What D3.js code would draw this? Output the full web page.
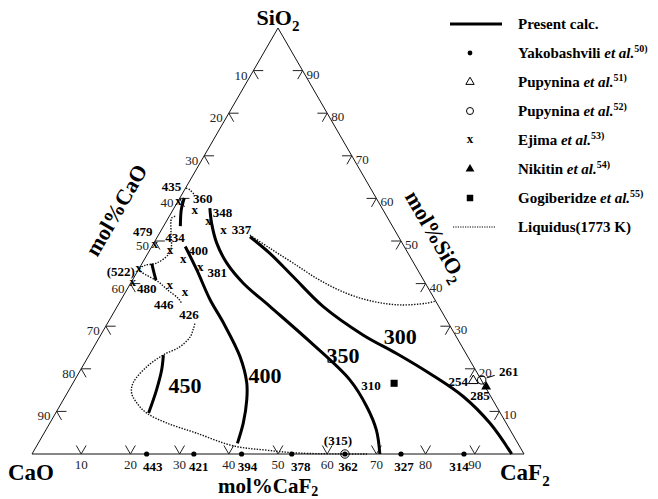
<!DOCTYPE html>
<html>
<head>
<meta charset="utf-8">
<script src="https://cdn.jsdelivr.net/npm/d3@7"></script>
<style>
  body { margin: 0; background: #fff; }
  svg { font-family: "Liberation Serif", "Times New Roman", serif; }
</style>
</head>
<body>
<svg id="chart" width="658" height="499"></svg>
<script>
// every composition is [mol% CaF2, mol% SiO2]; CaO is what is left
const tickValues = [10, 20, 30, 40, 50, 60, 70, 80, 90];

// present calc. isolines
const calc450 = [[15.1, 23.2], [16.5, 19.7], [17.8, 15.0], [18.9, 9.6]];
const calc400 = [[6.8, 48.7], [11.9, 43.2], [18.1, 36.2], [23.5, 30.8], [30.9, 22.8], [35.3, 16.7], [37.3, 12.7], [39.3, 7.3], [40.5, 2.5]];
const calc350 = [[7.3, 57.7], [9.4, 54.2], [12.8, 49.5], [17.2, 44.8], [22.9, 40.1], [31.1, 34.6], [43.4, 26.3], [55.9, 17.4], [62.5, 11.1], [67.2, 5.6], [70.7, 0]];
const calc300 = [[18.8, 51.0], [24.8, 47.1], [32.3, 41.6], [41.9, 34.6], [53.4, 27.9], [62.3, 23.6], [71.4, 18.9], [80.9, 13.5], [89.5, 7.2], [97.5, 0]];
const calcTop = [[0.9, 60.1], [1.3, 58.5], [1.8, 57.0], [3.4, 53.5]];
const calcMid = [[2.0, 44.7], [3.2, 43.0], [4.8, 40.8]];
const calcNames = ['450', '400', '350', '300'];
const calcNamePos = [[23.0, 16.2], [38.1, 18.5], [51.6, 23.2], [61.0, 27.7]];

// liquidus 1773 K
const liqRight = [[18.6, 51.4], [24.2, 48.3], [30.7, 44.8], [38.1, 40.8], [45.1, 37.7], [51.5, 35.8], [57.3, 35.0], [62.5, 35.4], [64.1, 35.9]];
const liqTop = [[0.1, 62.4], [1.1, 62.0], [2.4, 61.0]];
const liqLeft1 = [[1.2, 55.8], [0.7, 55.4], [2.2, 52.1], [4.1, 48.4], [4.3, 46.8], [2.9, 44.8], [0.8, 44.3], [0.0, 43.4]];
const liqLeft2 = [[0.0, 43.4], [0.9, 42.7], [5.5, 40.4], [8.5, 38.4], [11.5, 36.5], [12.8, 35.3]];
const liqLeft3 = [[17.8, 30.6], [18.1, 29.4], [18.4, 27.5], [17.5, 25.2], [15.0, 23.2], [13.1, 20.5], [12.2, 16.7], [13.1, 14.3], [15.3, 12.0], [18.5, 9.6], [23.7, 7.3], [31.0, 4.9], [40.0, 1.9], [47.2, 0.9], [54.4, 0.2], [68.1, 0]];

// measured points
const yakoCaF2 = [23.3, 32.9, 42.6, 52.8, 63.6, 75.0, 87.8];
const yakoVals = ['443', '421', '394', '378', '362', '327', '314'];
const pupy51Pts = [[81.1, 17.2]];
const pupy51Vals = ['254'];
const pupy52Pts = [[82.7, 17.4], [63.6, 0]];
const pupy52Vals = ['261', '(315)'];
const ejimaPts = [[0.2, 59.2], [4.6, 57.0], [8.6, 54.5], [12.7, 52.4], [0.4, 49.1], [4.2, 47.7], [8.0, 45.5], [12.4, 43.6], [0.0, 43.4], [0.5, 40.0], [8.3, 39.4], [12.2, 37.8]];
const ejimaVals = ['435', '360', '348', '337', '479', '434', '400', '381', '(522)', '480', '446', '426'];
const nikitinPts = [[84.4, 15.8]];
const nikitinVals = ['285'];
const gogiPts = [[65.3, 16.6]];
const gogiVals = ['310'];

// label shifts in px from the marker
const shift = {
  '443': [6, 12], '421': [5, 12], '394': [6, 12], '378': [9, 12], '362': [3, 12], '327': [3, 12], '314': [-5, 12],
  '254': [-15, 1], '261': [27, -8], '(315)': [-7, -14], '285': [-6, 9], '310': [-23, 2],
  '435': [-7, -15], '360': [8, -13], '348': [14, -9], '337': [18, -1], '479': [-12, -13], '434': [5, -13],
  '400': [15, -10], '381': [17, 4], '(522)': [-18, 2], '480': [14, 5], '446': [-6, 18], '426': [4, 21]
};

const svg = d3.select('#chart');
const xs = d3.scaleLinear().domain([0, 100]).range([32, 524]);
const ys = d3.scaleLinear().domain([0, 100]).range([454, 28]);
const px = d => xs(d[0] + d[1] / 2);
const py = d => ys(d[1]);

// triangle
svg.append('path')
  .attr('d', d3.line().x(px).y(py)([[0, 0], [100, 0], [0, 100], [0, 0]]))
  .attr('fill', 'none').attr('stroke', '#111').attr('stroke-width', 1);

// ticks: two small arms along the grid directions
const arm = 2;
const tickG = svg.append('g').attr('stroke', '#222').attr('stroke-width', 1).attr('fill', 'none');
tickValues.forEach(v => {
  const left = [0, 100 - v];      // CaO = v
  const right = [100 - v, v];     // SiO2 = v
  const bottom = [v, 0];          // CaF2 = v
  [
    [left, [left[0] + arm, left[1]]], [left, [left[0] + arm, left[1] - arm]],
    [right, [right[0] - arm, right[1]]], [right, [right[0], right[1] - arm]],
    [bottom, [bottom[0] - arm, arm]], [bottom, [bottom[0], arm]]
  ].forEach(s => tickG.append('line')
    .attr('x1', px(s[0])).attr('y1', py(s[0]))
    .attr('x2', px(s[1])).attr('y2', py(s[1])));

  svg.append('text').attr('x', px(left) - 6).attr('y', py(left) + 9)
    .attr('text-anchor', 'end').attr('font-size', 13).attr('fill', '#222').text(v);
  svg.append('text').attr('x', px(right) + 4).attr('y', py(right) + 8)
    .attr('font-size', 13).attr('fill', '#222').text(v);
  svg.append('text').attr('x', px(bottom)).attr('y', py(bottom) + 15)
    .attr('text-anchor', 'middle').attr('font-size', 13).attr('fill', '#222').text(v);
});

// curves
const curve = d3.line().x(px).y(py).curve(d3.curveCatmullRom);
[liqRight, liqTop, liqLeft1, liqLeft2, liqLeft3].forEach(l => {
  svg.append('path').attr('d', curve(l)).attr('fill', 'none')
    .attr('stroke', '#111').attr('stroke-width', 1.4).attr('stroke-dasharray', '1.4,1.4');
});
[calc450, calc400, calc350, calc300, calcTop, calcMid].forEach(l => {
  svg.append('path').attr('d', curve(l)).attr('fill', 'none')
    .attr('stroke', '#000').attr('stroke-width', 3);
});
calcNames.forEach((t, i) => {
  svg.append('text').attr('x', px(calcNamePos[i])).attr('y', py(calcNamePos[i]))
    .attr('dy', '0.35em').attr('text-anchor', 'middle')
    .attr('font-size', 22).attr('font-weight', 'bold').text(t);
});

// markers
function pointLabel(d, t) {
  const s = shift[t];
  svg.append('text').attr('x', px(d) + s[0]).attr('y', py(d) + s[1])
    .attr('dy', '0.35em').attr('text-anchor', 'middle')
    .attr('font-size', 13).attr('font-weight', 'bold').text(t);
}
const tri = d3.symbol().type(d3.symbolTriangle).size(42);
const sq = d3.symbol().type(d3.symbolSquare).size(50);

yakoCaF2.forEach((f, i) => {
  const d = [f, 0];
  svg.append('circle').attr('cx', px(d)).attr('cy', py(d)).attr('r', 2.6).attr('fill', '#000');
  pointLabel(d, yakoVals[i]);
});
pupy51Pts.forEach((d, i) => {
  svg.append('path').attr('d', tri()).attr('transform', `translate(${px(d)},${py(d)})`)
    .attr('fill', '#fff').attr('stroke', '#000').attr('stroke-width', 1);
  pointLabel(d, pupy51Vals[i]);
});
pupy52Pts.forEach((d, i) => {
  svg.append('circle').attr('cx', px(d)).attr('cy', py(d)).attr('r', 4.2)
    .attr('fill', 'none').attr('stroke', '#000').attr('stroke-width', 1);
  pointLabel(d, pupy52Vals[i]);
});
// leader from the circle to its value
svg.append('line')
  .attr('x1', px(pupy52Pts[0]) + 5).attr('y1', py(pupy52Pts[0]) - 2)
  .attr('x2', px(pupy52Pts[0]) + 13).attr('y2', py(pupy52Pts[0]) - 4.5)
  .attr('stroke', '#000').attr('stroke-width', 1);
nikitinPts.forEach((d, i) => {
  svg.append('path').attr('d', tri()).attr('transform', `translate(${px(d)},${py(d)})`).attr('fill', '#000');
  pointLabel(d, nikitinVals[i]);
});
gogiPts.forEach((d, i) => {
  svg.append('path').attr('d', sq()).attr('transform', `translate(${px(d)},${py(d)})`).attr('fill', '#000');
  pointLabel(d, gogiVals[i]);
});
ejimaPts.forEach((d, i) => {
  svg.append('text').attr('x', px(d)).attr('y', py(d)).attr('dy', '0.22em')
    .attr('text-anchor', 'middle').attr('font-size', 13).attr('font-weight', 'bold').text('x');
  pointLabel(d, ejimaVals[i]);
});

// vertex names
function withSub(sel, main, sub, subSize, drop) {
  sel.append('tspan').text(main);
  sel.append('tspan').attr('font-size', subSize).attr('dy', drop || 6).text(sub);
}
withSub(svg.append('text').attr('x', 278).attr('y', 25).attr('text-anchor', 'middle')
  .attr('font-size', 22).attr('font-weight', 'bold'), 'SiO', '2', 15);
svg.append('text').attr('x', 8).attr('y', 480).attr('font-size', 23).attr('font-weight', 'bold').text('CaO');
withSub(svg.append('text').attr('x', 500).attr('y', 480)
  .attr('font-size', 23).attr('font-weight', 'bold'), 'CaF', '2', 15);

// axis titles
withSub(svg.append('text').attr('x', 218).attr('y', 493)
  .attr('font-size', 21).attr('font-weight', 'bold'), 'mol%CaF', '2', 14, 3);
svg.append('text').attr('transform', 'translate(116,210) rotate(-60)')
  .attr('text-anchor', 'middle').attr('dy', '0.35em')
  .attr('font-size', 22).attr('font-weight', 'bold').text('mol%CaO');
withSub(svg.append('text').attr('transform', 'translate(436,236) rotate(60)')
  .attr('text-anchor', 'middle').attr('dy', '0.35em')
  .attr('font-size', 22).attr('font-weight', 'bold'), 'mol%SiO', '2', 15);

// legend
const legendNames = ['Present calc.', 'Yakobashvili', 'Pupynina', 'Pupynina', 'Ejima', 'Nikitin', 'Gogiberidze', 'Liquidus(1773 K)'];
const legendRefs = ['', '50)', '51)', '52)', '53)', '54)', '55)', ''];
const lg = svg.append('g');
const rowY = i => 24 + i * 29;
legendNames.forEach((n, i) => {
  const t = lg.append('text').attr('x', 518).attr('y', rowY(i)).attr('dy', '0.35em')
    .attr('font-size', 15).attr('font-weight', 'bold');
  t.append('tspan').text(n);
  if (legendRefs[i]) {
    t.append('tspan').attr('font-style', 'italic').text(' et al.');
    t.append('tspan').attr('font-size', 10).attr('dy', -6).text(legendRefs[i]);
  }
});
lg.append('line').attr('x1', 450).attr('x2', 502).attr('y1', rowY(0)).attr('y2', rowY(0))
  .attr('stroke', '#000').attr('stroke-width', 3);
lg.append('circle').attr('cx', 470).attr('cy', rowY(1)).attr('r', 2.4).attr('fill', '#000');
lg.append('path').attr('d', tri.size(30)()).attr('transform', `translate(470,${rowY(2)})`)
  .attr('fill', '#fff').attr('stroke', '#000');
lg.append('circle').attr('cx', 470).attr('cy', rowY(3)).attr('r', 3.5).attr('fill', 'none').attr('stroke', '#000');
lg.append('text').attr('x', 470).attr('y', rowY(4)).attr('dy', '0.22em').attr('text-anchor', 'middle')
  .attr('font-size', 13).attr('font-weight', 'bold').text('x');
lg.append('path').attr('d', tri.size(34)()).attr('transform', `translate(470,${rowY(5)})`).attr('fill', '#000');
lg.append('path').attr('d', sq.size(42)()).attr('transform', `translate(470,${rowY(6)})`).attr('fill', '#000');
lg.append('line').attr('x1', 453).attr('x2', 495).attr('y1', rowY(7)).attr('y2', rowY(7))
  .attr('stroke', '#000').attr('stroke-width', 1.2).attr('stroke-dasharray', '1.2,1.2');
</script>
</body>
</html>
